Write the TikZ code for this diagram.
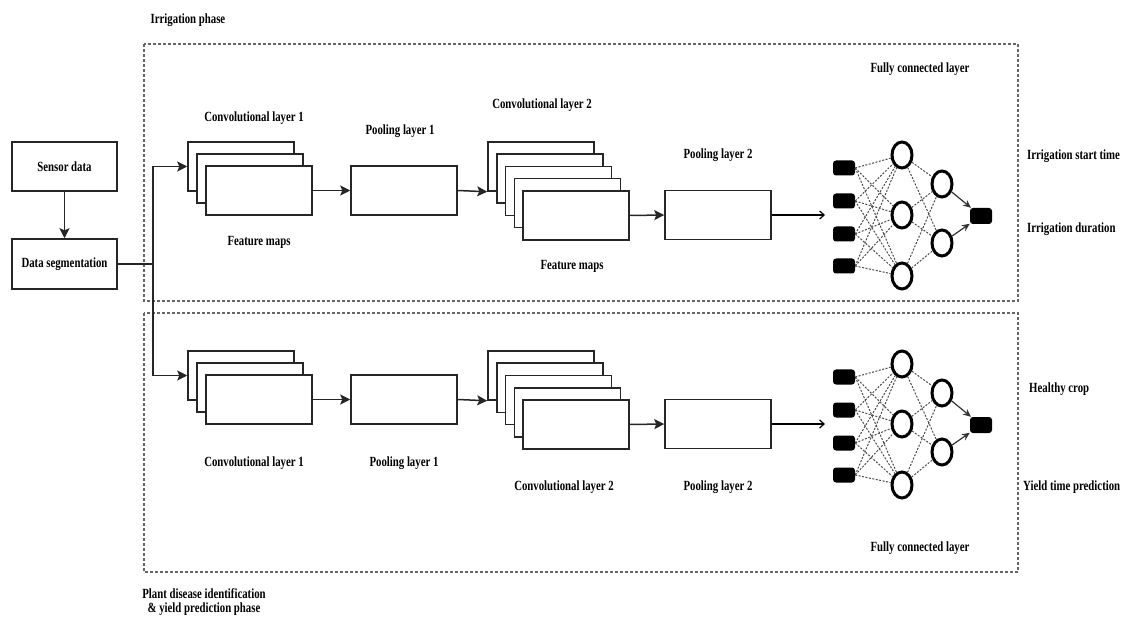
\documentclass[tikz,border=0pt]{standalone}
\usepackage{fontspec}
\setmainfont{Liberation Serif}[FakeStretch=0.77]
\usetikzlibrary{arrows.meta,shapes.geometric}
\tikzset{
 lbl/.style={font=\fontsize{14}{14.5}\selectfont\bfseries, inner sep=0pt, align=center},
 blk/.style={draw=black!85, line width=1.5pt, fill=white, minimum width=106pt, minimum height=49pt, inner sep=0pt, rectangle, font=\fontsize{14}{15}\selectfont\bfseries},
 flow/.style={line width=1.5pt, draw=black!85, -{Stealth[length=10pt,width=10pt,inset=2pt]}},
 plain/.style={line width=1.5pt, draw=black!85},
 thinarrow/.style={line width=1.2pt, draw=black, -{Straight Barb[length=4.5pt,width=8pt]}},
 outarrow/.style={line width=1.2pt, draw=black!80, -{Stealth[length=8pt,width=7pt]}},
 phase/.style={draw=black!60, line width=1.1pt, dash pattern=on 3pt off 2pt},
 inp/.style={fill=black, rounded corners=3pt, minimum width=22pt, minimum height=15pt, inner sep=0pt, rectangle},
 neu/.style={ellipse, draw=black, line width=3pt, minimum width=20pt, minimum height=26pt, inner sep=0pt, fill=white},
 conn/.style={draw=black!70, line width=1pt, dash pattern=on 2pt off 1.5pt},
}
\begin{document}
\begin{tikzpicture}[x=1pt,y=-1pt]
\useasboundingbox (0,0) rectangle (1124,617);
\draw[phase] (144,44) rectangle (1018,301);
\draw[phase] (144,313) rectangle (1018,572);

\node[blk, minimum width=105pt] (sensor) at (64.5,166.5) {Sensor data};
\node[blk, minimum width=105pt, minimum height=50pt] (seg) at (64.5,264) {Data segmentation};
\draw[flow] (sensor) -- (seg);
\coordinate (j) at (153,264);
\draw[plain] (seg.east) -- (j);

\foreach \r/\dy in {t/0,b/209} {
  \foreach \k/\n in {0/a,1/b,2/c}
    \node[blk] (\r c1\n) at (241+9*\k, 166.5+12*\k+\dy) {};
  \draw[flow] (j) |- (\r c1a.west);
  \node[blk] (\r p1) at (404, 190.5+\dy) {};
  \draw[flow] (\r c1c.east) -- (\r p1.west);
  \foreach \k/\n in {0/a,1/b,2/c,3/d,4/e}
    \node[blk] (\r c2\n) at (541+8.75*\k, 166.5+12.25*\k+\dy) {};
  \draw[flow] (\r p1.east) -- (\r c2a.south west);
  \node[blk] (\r p2) at (718, 215+\dy) {};
  \draw[flow] (\r c2e.east) -- (\r p2.west);
  \coordinate (\r in) at (825, 215+\dy);
  \draw[thinarrow] (\r p2.east) -- (\r in);
  % network
  \foreach \i/\y in {1/168,2/201,3/234,4/266}
    \node[inp] (\r x\i) at (844, \y+\dy) {};
  \foreach \i/\y in {1/155,2/215,3/276}
    \node[neu] (\r h\i) at (902, \y+\dy) {};
  \foreach \i/\y in {1/184,2/243}
    \node[neu] (\r g\i) at (942, \y+\dy) {};
  \node[inp, minimum height=16pt] (\r o) at (981, 216+\dy) {};
  \foreach \i in {1,...,4}
    \foreach \jj in {1,2,3}
      \draw[conn] (\r x\i.east) -- (\r h\jj);
  \foreach \i in {1,2,3}
    \foreach \jj in {1,2}
      \draw[conn] (\r h\i) -- (\r g\jj);
  \foreach \jj in {1,2}
    \draw[outarrow] (\r g\jj) -- (\r o);
}

% labels
\node[lbl] (lphase1) at (188,20) {Irrigation phase};
\node[lbl] (lfc1) at (920,69) {Fully connected layer};
\node[lbl] (lc1t) at (254,118) {Convolutional layer 1};
\node[lbl] (lp1t) at (400,131) {Pooling layer 1};
\node[lbl] (lc2t) at (542,105) {Convolutional layer 2};
\node[lbl] (lp2t) at (718,155) {Pooling layer 2};
\node[lbl] (lfm1) at (259,242) {Feature maps};
\node[lbl] (lfm2) at (572,266) {Feature maps};
\node[lbl, anchor=west] (lst) at (1027,156) {Irrigation start time};
\node[lbl, anchor=west] (ldur) at (1027,229) {Irrigation duration};

\node[lbl] (lc1b) at (254,463) {Convolutional layer 1};
\node[lbl] (lp1b) at (404,463) {Pooling layer 1};
\node[lbl] (lc2b) at (564,487) {Convolutional layer 2};
\node[lbl] (lp2b) at (718,487) {Pooling layer 2};
\node[lbl, anchor=west] (lhc) at (1029,389) {Healthy crop};
\node[lbl, anchor=west] (lyt) at (1023,487) {Yield time prediction};
\node[lbl] (lfc2) at (920,548) {Fully connected layer};
\node[lbl] (lphase2) at (204,602) {Plant disease identification\\ \& yield prediction phase};
\end{tikzpicture}
\end{document}
